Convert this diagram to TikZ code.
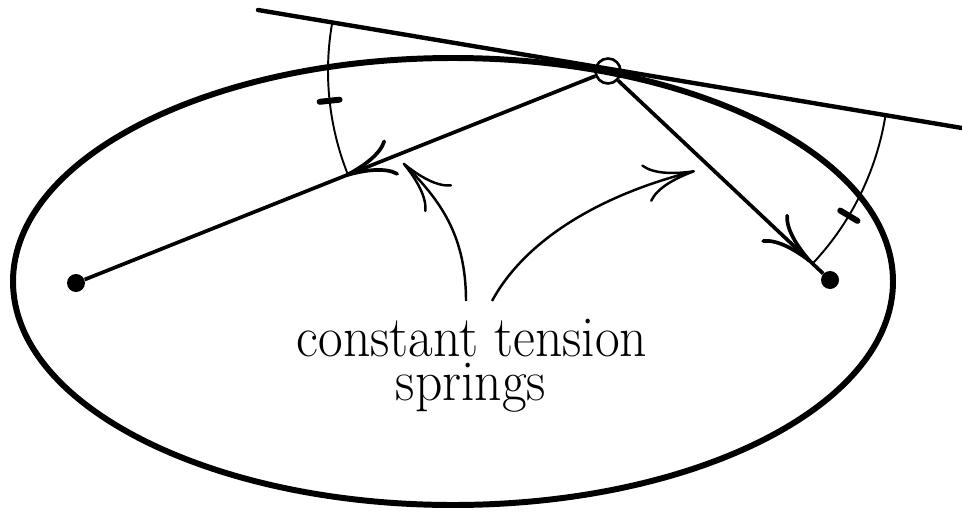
\documentclass[tikz,border=0pt]{standalone}
\usetikzlibrary{arrows.meta,decorations.markings,calc}
\begin{document}
\begin{tikzpicture}[x=0.02cm,y=-0.02cm,
  ellipseline/.style={line width=3.4pt},
  tangentline/.style={line width=2.5pt, line cap=round},
  stringline/.style={line width=2.1pt},
  anglearc/.style={line width=1.1pt},
  tickmark/.style={line width=3.4pt, line cap=round},
  springarrow/.style={line width=1.4pt, -{To[length=29pt,width=22pt]}},
  focusdot/.style={circle, fill=black, inner sep=0pt, minimum size=0.36cm},
  penpoint/.style={circle, draw=black, line width=1.5pt, inner sep=0pt, minimum size=0.5cm},
  tipat/.style={postaction={decorate, decoration={markings,
     mark=at position #1 with {\arrow{To[length=29pt,width=22pt]}}}}},
  labeltext/.style={font=\fontsize{30.5}{22}\selectfont, anchor=base, inner sep=0pt}
]
\useasboundingbox (0,0) rectangle (962,513);

% ellipse
\draw[ellipseline] (453,281.5) ellipse [x radius=440, y radius=223.5];

% foci and point on ellipse
\node[focusdot] (F1) at (76,283) {};
\node[focusdot] (F2) at (830,280) {};
\node[penpoint] (P) at (608,71) {};

% tangent line
\coordinate (T1) at (258,10);
\coordinate (T2) at (962,128);
\draw[tangentline] (T1) -- (T2);

% strings to foci
\draw[stringline, tipat=0.49] (P) -- (F1);
\draw[stringline, tipat=0.94] (P) -- (F2);

% angle arcs
\draw[anglearc] ($(P)+(189.9:280)$) arc[start angle=189.9, end angle=158.3, radius=280];
\draw[anglearc] ($(P)+(9.15:281)$) arc[start angle=9.15, end angle=43.3, radius=281];

% ticks
\draw[tickmark] ($(P)+(173.9:270)$) -- ($(P)+(173.9:290)$);
\draw[tickmark] ($(P)+(31:271)$) -- ($(P)+(31:291)$);

% label and pointers
\node[labeltext] (label1) at (472,356) {\scalebox{1}[1.08]{constant tension}};
\node[labeltext] (label2) at (471,400) {\scalebox{1}[1.08]{springs}};
\coordinate (SL) at (466,301);
\coordinate (EL) at (403,163);
\coordinate (SR) at (492,301);
\coordinate (ER) at (695,171);
\draw[springarrow] (SL) .. controls (466,235) and (440,200) .. (EL);
\draw[springarrow] (SR) .. controls (525,240) and (600,195) .. (ER);
\end{tikzpicture}
\end{document}
